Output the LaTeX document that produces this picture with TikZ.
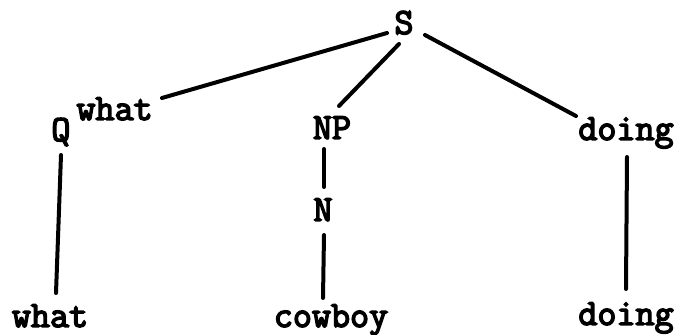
\documentclass[tikz,border=0pt]{standalone}
\usepackage{fontspec}
\newfontfamily\twfont{Latin Modern Mono}[FakeBold=4]
\begin{document}
\begin{tikzpicture}[x=0.5pt,y=-0.5pt,
  lbl/.style={inner sep=0pt,anchor=base,font=\fontsize{18.5}{20}\twfont\bfseries},
  edge/.style={line width=2pt,line cap=round}]
\useasboundingbox (0,0) rectangle (681,335);
\node[lbl] (S) at (404,34) {S};
\node[lbl,anchor=base west] (Q) at (51,141) {Q\hspace{3pt}\raisebox{10.5pt}{what}};
\node[lbl] (NP) at (332,139) {NP};
\node[lbl] (D1) at (626,140) {doing};
\node[lbl] (N) at (323,221) {N};
\node[lbl] (W) at (50,327) {what};
\node[lbl] (C) at (331,327) {cowboy};
\node[lbl] (D2) at (626,325) {doing};
\draw[edge] ([shift={(-17,-1)}]S.base) -- ([shift={(111,-43)}]Q.base west);
\draw[edge] ([shift={(-5,10)}]S.base) -- ([shift={(7,-33)}]NP.base);
\draw[edge] ([shift={(21,1)}]S.base) -- ([shift={(-50,-24)}]D1.base);
\draw[edge] ([shift={(10,14)}]Q.base west) -- ([shift={(6,-34)}]W.base);
\draw[edge] ([shift={(-8,10)}]NP.base) -- ([shift={(1,-34)}]N.base);
\draw[edge] ([shift={(1,14)}]N.base) -- ([shift={(-8,-29)}]C.base);
\draw[edge] ([shift={(1,17)}]D1.base) -- ([shift={(0,-36)}]D2.base);
\end{tikzpicture}
\end{document}
